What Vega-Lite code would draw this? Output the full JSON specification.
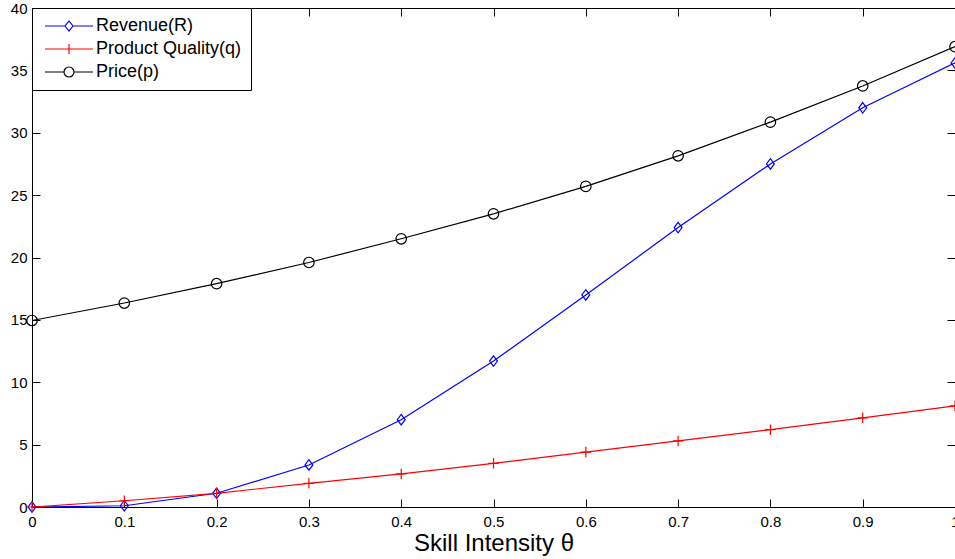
{
  "$schema": "https://vega.github.io/schema/vega-lite/v6.json",
  "autosize": {"type": "none"},
  "padding": {"left": 32, "top": 8, "right": 0, "bottom": 52},
  "width": 923,
  "height": 499,
  "background": "white",
  "config": {
    "view": {"stroke": "black", "strokeWidth": 1},
    "font": "Liberation Sans",
    "axis": {
      "labelFont": "Liberation Sans",
      "labelFontSize": 15,
      "labelColor": "black",
      "domainColor": "black",
      "tickColor": "black",
      "tickSize": -8,
      "grid": false,
      "titleFont": "Liberation Sans",
      "titleFontWeight": "normal",
      "titleColor": "black"
    },
    "legend": {
      "labelFont": "Liberation Sans",
      "labelFontSize": 18,
      "labelColor": "black"
    }
  },
  "data": {
    "values": [
      {"theta": 0.0, "series": "Revenue(R)", "v": 0.0},
      {"theta": 0.1, "series": "Revenue(R)", "v": 0.1},
      {"theta": 0.2, "series": "Revenue(R)", "v": 1.1},
      {"theta": 0.3, "series": "Revenue(R)", "v": 3.37},
      {"theta": 0.4, "series": "Revenue(R)", "v": 7.0},
      {"theta": 0.5, "series": "Revenue(R)", "v": 11.7},
      {"theta": 0.6, "series": "Revenue(R)", "v": 17.0},
      {"theta": 0.7, "series": "Revenue(R)", "v": 22.4},
      {"theta": 0.8, "series": "Revenue(R)", "v": 27.5},
      {"theta": 0.9, "series": "Revenue(R)", "v": 32.0},
      {"theta": 1.0, "series": "Revenue(R)", "v": 35.6},
      {"theta": 0.0, "series": "Product Quality(q)", "v": 0.0},
      {"theta": 0.1, "series": "Product Quality(q)", "v": 0.5},
      {"theta": 0.2, "series": "Product Quality(q)", "v": 1.1},
      {"theta": 0.3, "series": "Product Quality(q)", "v": 1.9},
      {"theta": 0.4, "series": "Product Quality(q)", "v": 2.65},
      {"theta": 0.5, "series": "Product Quality(q)", "v": 3.5},
      {"theta": 0.6, "series": "Product Quality(q)", "v": 4.4},
      {"theta": 0.7, "series": "Product Quality(q)", "v": 5.3},
      {"theta": 0.8, "series": "Product Quality(q)", "v": 6.2},
      {"theta": 0.9, "series": "Product Quality(q)", "v": 7.15},
      {"theta": 1.0, "series": "Product Quality(q)", "v": 8.1},
      {"theta": 0.0, "series": "Price(p)", "v": 14.95},
      {"theta": 0.1, "series": "Price(p)", "v": 16.35},
      {"theta": 0.2, "series": "Price(p)", "v": 17.9},
      {"theta": 0.3, "series": "Price(p)", "v": 19.6},
      {"theta": 0.4, "series": "Price(p)", "v": 21.5},
      {"theta": 0.5, "series": "Price(p)", "v": 23.5},
      {"theta": 0.6, "series": "Price(p)", "v": 25.7},
      {"theta": 0.7, "series": "Price(p)", "v": 28.15},
      {"theta": 0.8, "series": "Price(p)", "v": 30.85},
      {"theta": 0.9, "series": "Price(p)", "v": 33.75},
      {"theta": 1.0, "series": "Price(p)", "v": 36.9}
    ]
  },
  "layer": [
    {
      "mark": {"type": "line", "strokeWidth": 1.2, "clip": true},
      "encoding": {
        "x": {
          "field": "theta", "type": "quantitative",
          "scale": {"domain": [0, 1], "nice": false},
          "axis": {
            "orient": "bottom",
            "values": [0, 0.1, 0.2, 0.3, 0.4, 0.5, 0.6, 0.7, 0.8, 0.9, 1],
            "format": "~g",
            "labelPadding": 15,
            "labelFlush": false,
            "title": "Skill Intensity θ",
            "titleFontSize": 24,
            "titlePadding": 2
          }
        },
        "y": {
          "field": "v", "type": "quantitative",
          "scale": {"domain": [0, 40], "nice": false},
          "axis": {
            "orient": "left",
            "values": [0, 5, 10, 15, 20, 25, 30, 35, 40],
            "format": "d",
            "labelPadding": 13,
            "labelFlush": false,
            "title": null
          }
        },
        "color": {
          "field": "series", "type": "nominal",
          "scale": {
            "domain": ["Revenue(R)", "Product Quality(q)", "Price(p)"],
            "range": ["#0000ff", "#ff0000", "#000000"]
          },
          "legend": {
            "title": null,
            "orient": "top-left",
            "offset": 0,
            "padding": 9,
            "rowPadding": 5,
            "fillColor": "white",
            "strokeColor": "black",
            "symbolSize": 100,
            "symbolStrokeWidth": 1.2,
            "labelOffset": 37,
            "labelExpr": "datum.label + '\u00a0\u00a0'",
            "encode": {
              "symbols": {
                "update": {
                  "shape": {"signal": "datum.value === 'Revenue(R)' ? 'M-1,0H3M3.8,-1L4.6,0L3.8,1L3,0ZM4.6,0H8.6' : (datum.value === 'Product Quality(q)' ? 'M-1,0H8.6M3.8,-1V1' : 'M-1,0H2.8A1,1 0 1,1 4.8,0A1,1 0 1,1 2.8,0M4.8,0H8.6')"},
                  "fill": {"value": "transparent"},
                  "strokeWidth": {"value": 1.2}
                }
              }
            }
          }
        }
      }
    },
    {
      "transform": [{"filter": "datum.series === 'Revenue(R)'"}],
      "mark": {"type": "point", "filled": false, "strokeWidth": 1.2, "opacity": 1, "clip": false, "shape": "M0,-1L0.75,0L0,1L-0.75,0Z", "size": 110, "color": "#0000ff"},
      "encoding": {
        "x": {"field": "theta", "type": "quantitative", "scale": {"domain": [0, 1], "nice": false},
          "axis": {"orient": "top", "values": [0, 0.1, 0.2, 0.3, 0.4, 0.5, 0.6, 0.7, 0.8, 0.9, 1], "labels": false, "title": null}},
        "y": {"field": "v", "type": "quantitative", "scale": {"domain": [0, 40], "nice": false},
          "axis": {"orient": "right", "values": [0, 5, 10, 15, 20, 25, 30, 35, 40], "labels": false, "title": null}}
      }
    },
    {
      "transform": [{"filter": "datum.series === 'Product Quality(q)'"}],
      "mark": {"type": "point", "filled": false, "strokeWidth": 1.2, "opacity": 1, "clip": false, "shape": "M-1,0H1M0,-1V1", "size": 110, "color": "#ff0000"},
      "encoding": {
        "x": {"field": "theta", "type": "quantitative", "axis": null},
        "y": {"field": "v", "type": "quantitative", "axis": null}
      }
    },
    {
      "transform": [{"filter": "datum.series === 'Price(p)'"}],
      "mark": {"type": "point", "filled": false, "strokeWidth": 1.2, "opacity": 1, "clip": false, "shape": "circle", "size": 110, "color": "#000000"},
      "encoding": {
        "x": {"field": "theta", "type": "quantitative", "axis": null},
        "y": {"field": "v", "type": "quantitative", "axis": null}
      }
    }
  ],
  "resolve": {"scale": {"x": "shared", "y": "shared"}, "axis": {"x": "independent", "y": "independent"}}
}
